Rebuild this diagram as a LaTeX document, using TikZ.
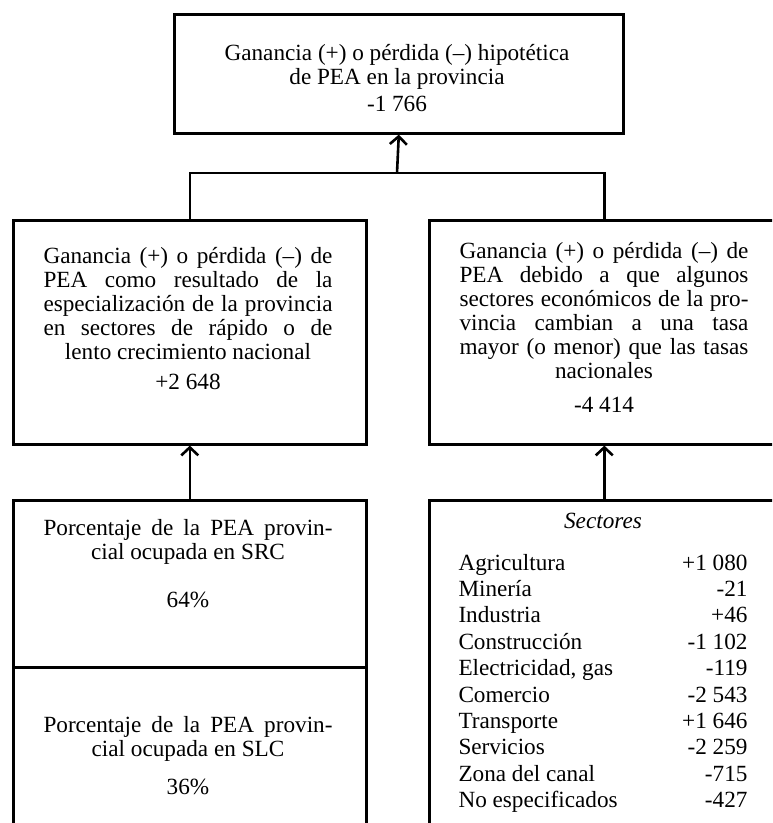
\documentclass[tikz,border=0pt]{standalone}
\usepackage{fontspec}
\setmainfont{Liberation Serif}
\usetikzlibrary{arrows.meta,positioning}
\newlength{\jw}
\setlength{\jw}{144.5pt}
\newcommand{\jline}[1]{\makebox[\jw][s]{#1}}
\newcommand{\srow}[2]{\makebox[\jw]{#1\hfill #2}}
\tikzset{
  box/.style={draw, line width=1.3pt, anchor=north west, inner sep=0pt},
  txt/.style={align=center, inner sep=0pt, anchor=north,
    font=\fontsize{11.6}{12}\selectfont},
  listtxt/.style={txt, font=\fontsize{11.6}{13.2}\selectfont},
  link/.style={line width=1.3pt},
  arr/.style={-{Straight Barb[length=4pt, width=8.5pt]}, line width=1.3pt}
}

\begin{document}
\begin{tikzpicture}[x=0.5pt, y=-0.5pt]
    \useasboundingbox (0,0) rectangle (772,823);
    \clip (0,0) rectangle (772,823);
    % boxes
    \node[box, minimum width=224.5pt, minimum height=59.5pt] (total) at (173,13) {};
    \node[box, minimum width=176.5pt, minimum height=112pt] (structure) at (12,219) {};
    \node[box, minimum width=175pt, minimum height=112pt] (differential) at (428,219) {};
    \node[box, minimum width=176.5pt, minimum height=83.5pt] (src) at (12,499) {};
    \node[box, minimum width=176.5pt, minimum height=92pt] (slc) at (12,666) {};
    \node[box, minimum width=175pt, minimum height=180pt] (sectors) at (428,499) {};
    % texts
    \node[txt] (totaltxt) at (397,44) {Ganancia (+) o pérdida (--) hipotética\\
      de PEA en la provincia\\[1.5pt] -1 766};
    \node[txt] (structuretxt) at (188,247) {\jline{Ganancia (+) o pérdida (--) de}\\
      \jline{PEA como resultado de la}\\
      \jline{especialización de la provincia}\\
      \jline{en sectores de rápido o de}\\
      lento crecimiento nacional\\[3pt] +2 648};
    \node[txt] (differentialtxt) at (604,242) {\jline{Ganancia (+) o pérdida (--) de}\\
      \jline{PEA debido a que algunos}\\
      \jline{sectores económicos de la pro-}\\
      \jline{vincia cambian a una tasa}\\
      \jline{mayor (o menor) que las tasas}\\
      nacionales\\[5pt] -4 414};
    \node[txt] (srctxt) at (188,519) {\jline{Porcentaje de la PEA provin-}\\
      cial ocupada en SRC\\[12pt] 64\%};
    \node[txt] (slctxt) at (188,716) {\jline{Porcentaje de la PEA provin-}\\
      cial ocupada en SLC\\[7pt] 36\%};
    \node[listtxt] (sectorstxt) at (603,513) {\textit{Sectores}\\[7.5pt]
      \srow{Agricultura}{+1 080}\\
      \srow{Minería}{-21}\\
      \srow{Industria}{+46}\\
      \srow{Construcción}{-1 102}\\
      \srow{Electricidad, gas}{-119}\\
      \srow{Comercio}{-2 543}\\
      \srow{Transporte}{+1 646}\\
      \srow{Servicios}{-2 259}\\
      \srow{Zona del canal}{-715}\\
      \srow{No especificados}{-427}};
    % connectors
    \coordinate (join) at (397,173);
    \draw[link] (structure.north) |- (join) -| (differential.north);
    \draw[arr] (join) -- (total.south);
    \draw[arr] (src.north) -- (structure.south);
    \draw[arr] (sectors.north) -- (differential.south);
\end{tikzpicture}
\end{document}
